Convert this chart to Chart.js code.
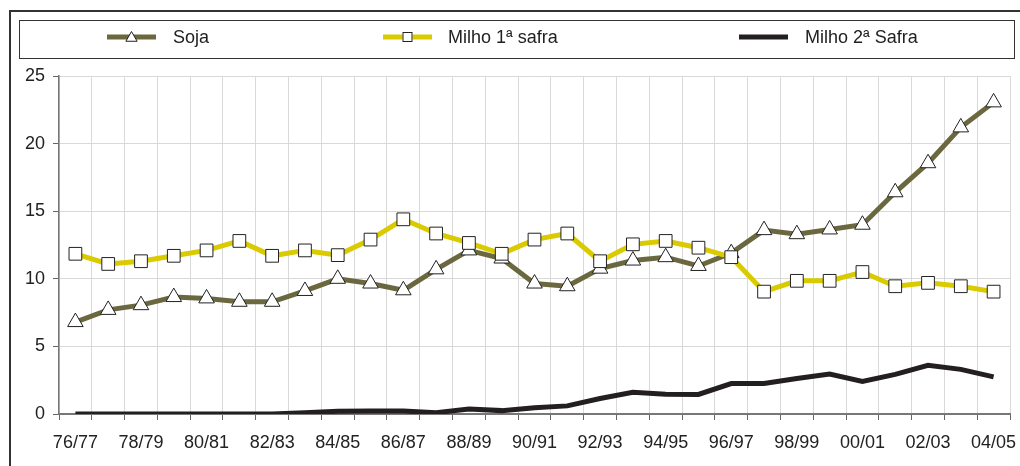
<!DOCTYPE html>
<html>
<head>
<meta charset="utf-8">
<script src="https://cdn.jsdelivr.net/npm/chart.js@4/dist/chart.umd.min.js"></script>
<style>
html,body{margin:0;padding:0;background:#fff;}
canvas{display:block;}
</style>
</head>
<body>
<canvas id="c" width="1020" height="466"></canvas>
<script>
const categories = ["76/77","77/78","78/79","79/80","80/81","81/82","82/83","83/84","84/85","85/86","86/87","87/88","88/89","89/90","90/91","91/92","92/93","93/94","94/95","95/96","96/97","97/98","98/99","99/00","00/01","01/02","02/03","03/04","04/05"];
const soja = [6.8,7.7,8.05,8.65,8.55,8.3,8.3,9.1,10.0,9.65,9.15,10.7,12.1,11.5,9.65,9.45,10.75,11.35,11.6,10.95,11.9,13.6,13.3,13.65,14.0,16.4,18.55,21.2,23.05];
const milho1 = [11.85,11.1,11.3,11.7,12.1,12.8,11.7,12.1,11.75,12.9,14.4,13.35,12.65,11.85,12.9,13.35,11.3,12.55,12.8,12.3,11.6,9.05,9.85,9.85,10.5,9.45,9.7,9.45,9.05];
const milho2 = [0,0,0,0,0,0,0,0.1,0.2,0.22,0.22,0.1,0.37,0.25,0.47,0.6,1.15,1.6,1.47,1.45,2.25,2.25,2.63,2.95,2.4,2.93,3.6,3.3,2.75];
const seriesNames = ["Soja","Milho 1ª safra","Milho 2ª Safra"];
const yTicks = [0,5,10,15,20,25];

const FONT = "'Liberation Sans', Arial, Helvetica, sans-serif";
const cSoja = '#6b6840', cMilho1 = '#d9cb00', cMilho2 = '#231f20';

function drawTri(ctx, x, y, r) {
  ctx.beginPath();
  ctx.moveTo(x, y - r);
  ctx.lineTo(x + r * Math.sin(2*Math.PI/3), y + r/2);
  ctx.lineTo(x - r * Math.sin(2*Math.PI/3), y + r/2);
  ctx.closePath();
  ctx.fillStyle = '#fff'; ctx.fill();
  ctx.lineWidth = 1; ctx.strokeStyle = '#222'; ctx.stroke();
}
function drawSq(ctx, x, y, s) {
  ctx.fillStyle = '#fff';
  ctx.fillRect(x - s/2, y - s/2, s, s);
  ctx.lineWidth = 1; ctx.strokeStyle = '#222';
  ctx.strokeRect(x - s/2 + 0.5, y - s/2 + 0.5, s - 1, s - 1);
}

const framePlugin = {
  id: 'frameLegend',
  afterDraw(chart) {
    const ctx = chart.ctx;
    ctx.save();
    ctx.strokeStyle = '#333'; ctx.lineWidth = 2;
    ctx.beginPath();
    ctx.moveTo(10, 466); ctx.lineTo(10, 11); ctx.lineTo(1020, 11);
    ctx.stroke();
    ctx.lineWidth = 1; ctx.strokeStyle = '#333';
    ctx.strokeRect(19.5, 20.5, 995, 38);
    const items = [
      {name: seriesNames[0], color: cSoja, x1: 107, x2: 156, tx: 173, mark: 'tri'},
      {name: seriesNames[1], color: cMilho1, x1: 383, x2: 432, tx: 448, mark: 'sq'},
      {name: seriesNames[2], color: cMilho2, x1: 739, x2: 788, tx: 805, mark: null}
    ];
    const y = 37;
    ctx.font = '18px ' + FONT;
    ctx.textBaseline = 'middle';
    ctx.textAlign = 'left';
    items.forEach(it => {
      ctx.strokeStyle = it.color; ctx.lineWidth = 5;
      ctx.beginPath(); ctx.moveTo(it.x1, y); ctx.lineTo(it.x2, y); ctx.stroke();
      const cx = (it.x1 + it.x2) / 2;
      if (it.mark === 'tri') drawTri(ctx, cx, y + 1, 6.5);
      if (it.mark === 'sq') drawSq(ctx, cx, y, 10);
      ctx.fillStyle = '#222';
      ctx.fillText(it.name, it.tx, y + 1);
    });
    ctx.restore();
  }
};

new Chart(document.getElementById('c'), {
  type: 'line',
  data: {
    labels: categories,
    datasets: [
      {label: seriesNames[0], data: soja, borderColor: cSoja, borderWidth: 5, pointStyle: 'triangle', pointRadius: 9, pointBackgroundColor: '#fff', pointBorderColor: '#222', pointBorderWidth: 1, tension: 0, order: 1},
      {label: seriesNames[1], data: milho1, borderColor: cMilho1, borderWidth: 5, pointStyle: 'rect', pointRadius: 9, pointBackgroundColor: '#fff', pointBorderColor: '#222', pointBorderWidth: 1, tension: 0, order: 0},
      {label: seriesNames[2], data: milho2, borderColor: cMilho2, borderWidth: 5, pointRadius: 0, tension: 0, order: 2}
    ]
  },
  options: {
    responsive: false,
    animation: false,
    layout: {padding: {left: 0, right: 8, top: 76, bottom: 0}},
    plugins: {legend: {display: false}, tooltip: {enabled: false}},
    scales: {
      x: {
        offset: true,
        grid: {offset: true, color: '#d9d9d9', lineWidth: 1, tickLength: 6, tickColor: '#666', drawTicks: true},
        border: {color: '#777', width: 2},
        ticks: {
          autoSkip: false, maxRotation: 0, padding: 12,
          color: '#222', font: {family: FONT, size: 18},
          callback: function(v, i) { return i % 2 === 0 ? categories[i] : ''; }
        },
        afterFit: function(s) { s.height = 52; s.paddingLeft = 0; s.paddingRight = 0; }
      },
      y: {
        min: 0, max: 25,
        afterBuildTicks: function(s) { s.ticks = yTicks.map(v => ({value: v})); },
        grid: {color: '#d9d9d9', lineWidth: 1, tickLength: 6, tickColor: '#666'},
        border: {color: '#777', width: 1.5},
        ticks: {color: '#222', padding: 8, font: {family: FONT, size: 18}},
        afterFit: function(s) { s.width = 59; s.paddingTop = 0; s.paddingBottom = 0; }
      }
    }
  },
  plugins: [framePlugin]
});
</script>
</body>
</html>
